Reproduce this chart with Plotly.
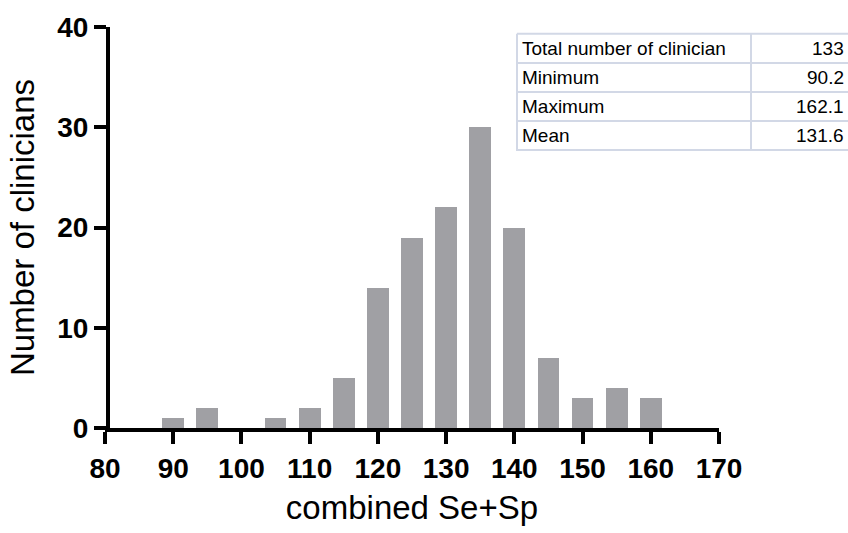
import plotly.graph_objects as go

# Histogram of combined sensitivity + specificity (bin centres, counts)
bin_centres = [90, 95, 100, 105, 110, 115, 120, 125, 130, 135, 140, 145, 150, 155, 160]
clinician_counts = [1, 2, 0, 1, 2, 5, 14, 19, 22, 30, 20, 7, 3, 4, 3]

# Summary statistics table
stat_labels = ["Total number of clinician", "Minimum", "Maximum", "Mean"]
stat_values = ["133", "90.2", "162.1", "131.6"]

x_ticks = [80, 90, 100, 110, 120, 130, 140, 150, 160, 170]
y_ticks = [0, 10, 20, 30, 40]

W, H = 848, 533
ML, MR, MT, MB = 105, 129, 21, 103
PW, PH = W - ML - MR, H - MT - MB

FONT = "Arial, Liberation Sans, Helvetica, sans-serif"


def px_x(px):
    return (px - ML) / PW


def px_y(py):
    return (H - MB - py) / PH


fig = go.Figure()
fig.add_trace(go.Bar(
    x=bin_centres,
    y=clinician_counts,
    width=3.2,
    marker=dict(color="#a0a0a4", line=dict(width=0)),
    showlegend=False,
    hoverinfo="x+y",
))

# Statistics table: grid lines and cell text
grid = "#d2d8e6"
tbl_left, tbl_split, tbl_right = 517, 751, 849
row_top, row_h = 28, 29.6
n_rows = len(stat_labels)
shapes = []
for i in range(n_rows + 1):
    yy = row_top + i * row_h
    shapes.append(dict(type="line", xref="paper", yref="paper",
                       x0=px_x(tbl_left), x1=px_x(tbl_right),
                       y0=px_y(yy), y1=px_y(yy),
                       line=dict(color=grid, width=2)))
for xx in (tbl_left, tbl_split):
    shapes.append(dict(type="line", xref="paper", yref="paper",
                       x0=px_x(xx), x1=px_x(xx),
                       y0=px_y(row_top), y1=px_y(row_top + n_rows * row_h + 1),
                       line=dict(color=grid, width=2)))

annotations = []
for i, (lab, val) in enumerate(zip(stat_labels, stat_values)):
    yc = px_y(row_top + i * row_h + row_h / 2)
    annotations.append(dict(xref="paper", yref="paper", x=px_x(tbl_left + 3), y=yc,
                            text=lab, showarrow=False, xanchor="left", yanchor="middle",
                            font=dict(family=FONT, size=19, color="#000")))
    annotations.append(dict(xref="paper", yref="paper", x=px_x(tbl_right - 3), y=yc,
                            text=val, showarrow=False, xanchor="right", yanchor="middle",
                            font=dict(family=FONT, size=19, color="#000")))

fig.update_layout(
    width=W, height=H,
    margin=dict(l=ML, r=MR, t=MT, b=MB, pad=0),
    paper_bgcolor="white", plot_bgcolor="white",
    bargap=0,
    shapes=shapes,
    annotations=annotations,
    xaxis=dict(
        range=[80, 170], tickvals=x_ticks, ticktext=[str(v) for v in x_ticks],
        showgrid=False, zeroline=False,
        showline=True, linecolor="black", linewidth=4,
        ticks="outside", ticklen=12, tickwidth=4, tickcolor="black",
        tickfont=dict(family=FONT, size=28, color="black", weight="bold"),
        title=dict(text="combined Se+Sp", standoff=14,
                   font=dict(family=FONT, size=33, color="black")),
    ),
    yaxis=dict(
        range=[0, 40], tickvals=y_ticks, ticktext=[str(v) for v in y_ticks],
        anchor="free", position=0, shift=3,
        showgrid=False, zeroline=False,
        showline=True, linecolor="black", linewidth=4,
        ticks="outside", ticklen=12, tickwidth=4, tickcolor="black",
        tickfont=dict(family=FONT, size=28, color="black", weight="bold"),
        title=dict(text="Number of clinicians", standoff=12,
                   font=dict(family=FONT, size=33, color="black")),
    ),
)

fig.write_html("out.html")
